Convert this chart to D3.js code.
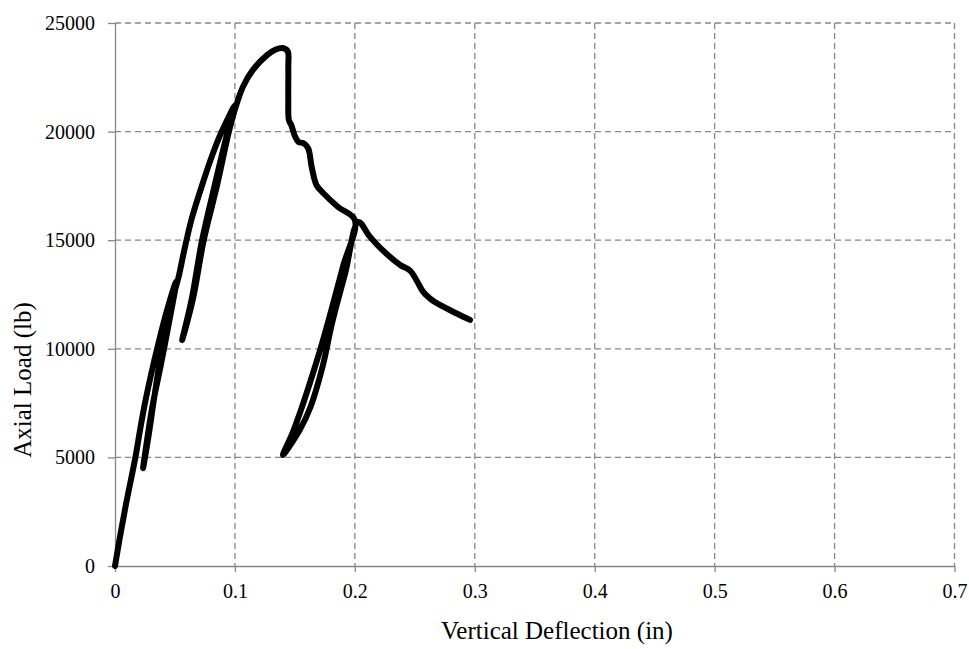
<!DOCTYPE html>
<html>
<head>
<meta charset="utf-8">
<script src="https://cdnjs.cloudflare.com/ajax/libs/d3/7.8.5/d3.min.js"></script>
<style>
  body { margin: 0; background: #fff; }
  #chart-container text { font-family: 'Liberation Serif', 'Times New Roman', serif; fill: #000; }
</style>
</head>
<body>
<div id="chart-container"></div>
<script>
// tick labels
var xTicks = [0, 0.1, 0.2, 0.3, 0.4, 0.5, 0.6, 0.7];
var xTickLabels = ['0', '0.1', '0.2', '0.3', '0.4', '0.5', '0.6', '0.7'];
var yTicks = [0, 5000, 10000, 15000, 20000, 25000];
var yTickLabels = ['0', '5000', '10000', '15000', '20000', '25000'];

// test record: vertical deflection (in) and axial load (lb), in load order
var deflection = [
  0, 0.004, 0.009, 0.017, 0.021, 0.025, 0.030, 0.036, 0.043, 0.051,
  0.045, 0.038, 0.031, 0.027, 0.0234,
  0.028, 0.032, 0.037, 0.042, 0.048, 0.053,
  0.058, 0.064, 0.073, 0.081, 0.089, 0.100,
  0.094, 0.083, 0.0726, 0.064, 0.056,
  0.065, 0.074, 0.085, 0.095, 0.101,
  0.107, 0.115, 0.127, 0.134, 0.140, 0.144, 0.1445, 0.1445, 0.145,
  0.147, 0.150, 0.153, 0.157, 0.161, 0.164, 0.168, 0.174, 0.186, 0.200,
  0.190, 0.171, 0.149, 0.140,
  0.154, 0.163, 0.173, 0.181, 0.192, 0.203,
  0.212, 0.222, 0.2378, 0.246, 0.252, 0.257, 0.263, 0.271, 0.284, 0.296
];
var load = [
  0, 1300, 2800, 5000, 6300, 7500, 8800, 10200, 11700, 13100,
  11200, 9200, 7300, 5900, 4500,
  6000, 7500, 9300, 10900, 12300, 13300,
  14600, 16000, 17600, 18900, 20000, 21200,
  20000, 17500, 15000, 12300, 10400,
  12300, 15000, 17500, 20000, 21200,
  22100, 22840, 23530, 23780, 23850, 23700, 23000, 21500, 20530,
  20300, 19800, 19520, 19470, 19240, 18370, 17540, 17150, 16530, 15930,
  13770, 9940, 6260, 5110,
  6260, 7320, 9160, 11190, 13490, 15840,
  15200, 14600, 13860, 13600, 13100, 12620, 12300, 12020, 11650, 11330
];

var chart = {};

chart.render = function() {

  d3.select('#chart-container').text('');

  var svgWidth = 969,
      svgHeight = 649,
      svg = d3.select('#chart-container').append('svg').attr('width', svgWidth).attr('height', svgHeight),
      margin = { top: 23, right: 14.5, bottom: 83, left: 115 },
      width = svgWidth - margin.left - margin.right,
      height = svgHeight - margin.bottom - margin.top;

  var g = svg.append('g').attr('transform', 'translate(' + margin.left + ',' + margin.top + ')');

  var x = d3.scaleLinear().domain([0, 0.7]).range([0, width]);
  var y = d3.scaleLinear().domain([0, 25000]).range([height, 0]);

  // dashed grid
  g.append('g').selectAll('line')
    .data(xTicks.slice(1))
    .enter().append('line')
      .attr('x1', function(d) { return x(d); })
      .attr('x2', function(d) { return x(d); })
      .attr('y1', 0)
      .attr('y2', height)
      .attr('stroke', '#878787')
      .attr('stroke-width', 1.3)
      .attr('stroke-dasharray', '6,4');

  g.append('g').selectAll('line')
    .data(yTicks.slice(1))
    .enter().append('line')
      .attr('x1', 0)
      .attr('x2', width)
      .attr('y1', function(d) { return y(d); })
      .attr('y2', function(d) { return y(d); })
      .attr('stroke', '#878787')
      .attr('stroke-width', 1.3)
      .attr('stroke-dasharray', '6,4');

  var xAxis = g.append('g').attr('class', 'axis axis-x')
      .attr('transform', 'translate(0, ' + height + ')')
      .call(d3.axisBottom(x).tickValues(xTicks)
        .tickFormat(function(d, i) { return xTickLabels[i]; })
        .tickSizeInner(6).tickSizeOuter(0).tickPadding(12));

  var yAxis = g.append('g').attr('class', 'axis axis-y')
      .call(d3.axisLeft(y).tickValues(yTicks)
        .tickFormat(function(d, i) { return yTickLabels[i]; })
        .tickSizeInner(7).tickSizeOuter(0).tickPadding(13));

  [xAxis, yAxis].forEach(function(a) {
    a.select('.domain').attr('stroke', '#878787').attr('stroke-width', 1.3);
    a.selectAll('.tick line').attr('stroke', '#878787').attr('stroke-width', 1.3);
    a.selectAll('.tick text').style('font-size', '20px');
  });

  svg.append('text')
      .attr('x', 557)
      .attr('y', 639)
      .style('text-anchor', 'middle')
      .style('font-size', '25px')
      .text('Vertical Deflection (in)');

  svg.append('text')
      .attr('transform', 'translate(31,380) rotate(-90)')
      .style('text-anchor', 'middle')
      .style('font-size', '25px')
      .text('Axial Load (lb)');

  var line = d3.line()
    .curve(d3.curveCatmullRom.alpha(0.5))
    .x(function(d) { return x(d); })
    .y(function(d, i) { return y(load[i]); });

  g.append('path')
    .datum(deflection)
    .attr('fill', 'none')
    .attr('stroke', '#000')
    .attr('stroke-linejoin', 'round')
    .attr('stroke-linecap', 'round')
    .attr('stroke-width', 6)
    .attr('d', line);
};

chart.render();
</script>
</body>
</html>
